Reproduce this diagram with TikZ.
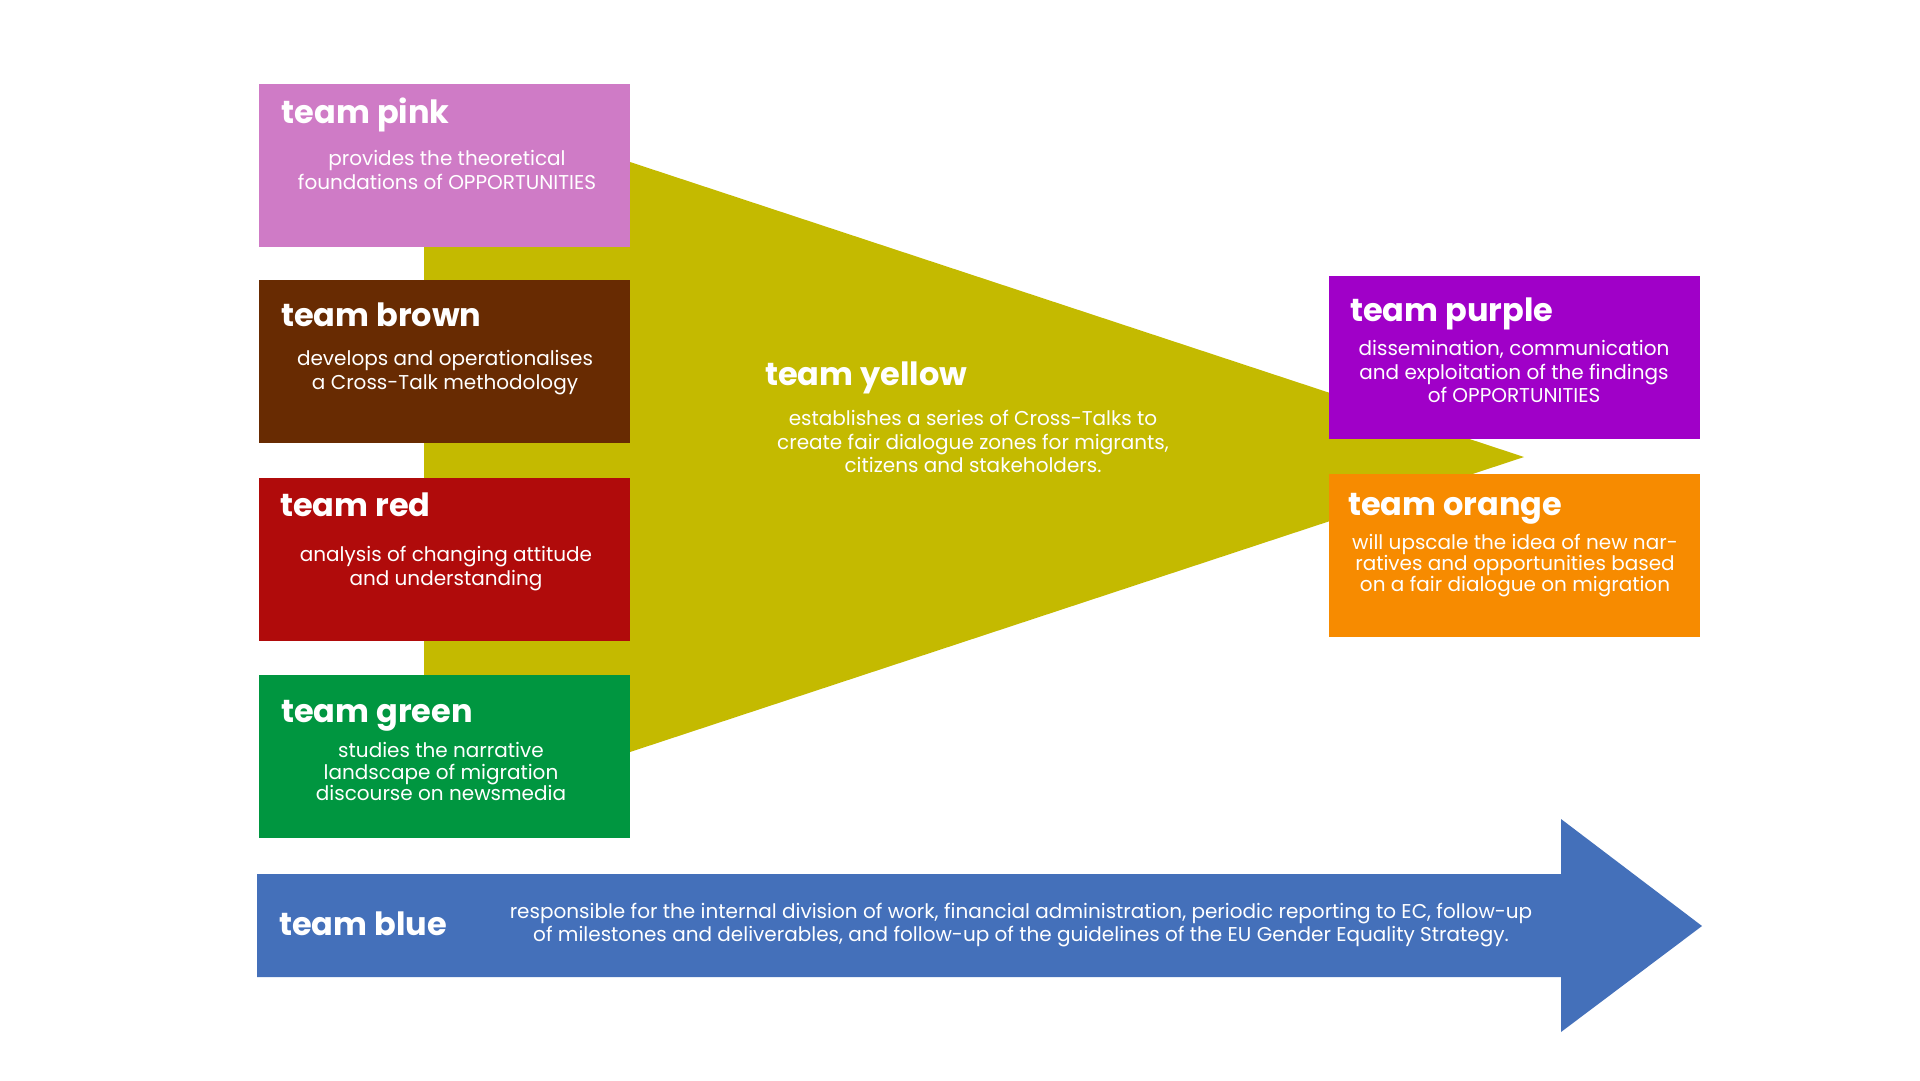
\documentclass[tikz,border=0pt]{standalone}
\usepackage{fontspec}
\setmainfont{Poppins}
\definecolor{cpink}{HTML}{CF7BC6}
\definecolor{cbrown}{HTML}{682B02}
\definecolor{cred}{HTML}{B00B0B}
\definecolor{cgreen}{HTML}{009640}
\definecolor{cyellow}{HTML}{C4BA00}
\definecolor{cpurple}{HTML}{A000C8}
\definecolor{corange}{HTML}{F78B00}
\definecolor{cblue}{HTML}{4470BA}
\begin{document}
\begin{tikzpicture}[x=1pt,y=-1pt,
  box/.style={draw=none,inner sep=0,minimum width=371pt,minimum height=163pt,anchor=north west},
  ttl/.style={anchor=base west,inner sep=0,text=white,font=\fontsize{32}{38}\selectfont\bfseries},
  bdy/.style={anchor=base,inner sep=0,text=white,align=center,font=\fontsize{20}{23.5}\selectfont}]
\useasboundingbox (0,0) rectangle (1920,1080);
\fill[white] (0,0) rectangle (1920,1080);
% yellow funnel
\fill[cyellow] (424,230) rectangle (640,720);
\fill[cyellow] (630,162) -- (1524,457) -- (630,752) -- cycle;
% left boxes
\node[box,fill=cpink] (pink) at (259,83.5) {};
\node[box,fill=cbrown] (brown) at (259,280) {};
\node[box,fill=cred] (red) at (259,478) {};
\node[box,fill=cgreen] (green) at (259,675) {};
% right boxes
\node[box,fill=cpurple] (purple) at (1329,276) {};
\node[box,fill=corange] (orange) at (1329,474) {};
% blue arrow
\fill[cblue] (257,874) -- (1561,874) -- (1561,819) -- (1702,926) -- (1561,1032) -- (1561,977) -- (257,977) -- cycle;
% titles
\node[ttl] (pinkt) at (281.7,123.3) {team pink};
\node[ttl] (brownt) at (281,326) {team brown};
\node[ttl] (redt) at (280,516.7) {team red};
\node[ttl] (greent) at (281,722.7) {team green};
\node[ttl] (yellowt) at (765,385) {team yellow};
\node[ttl] (purplet) at (1350,321) {team purple};
\node[ttl] (oranget) at (1348,515) {team orange};
\node[ttl] (bluet) at (279,935) {team blue};
% bodies (anchor = baseline of last line)
\node[bdy] (pinkb) at (447,189.3) {provides the theoretical\\foundations of OPPORTUNITIES};
\node[bdy] (brownb) at (445,389.3) {develops and operationalises\\a Cross-Talk methodology};
\node[bdy] (redb) at (446,585) {analysis of changing attitude\\and understanding};
\node[bdy,font=\fontsize{20}{21.7}\selectfont] (greenb) at (441,800.7) {studies the narrative\\landscape of migration\\discourse on newsmedia};
\node[bdy] (yellowb) at (973,472.7) {establishes a series of Cross-Talks to\\create fair dialogue zones for migrants,\\citizens and stakeholders.};
\node[bdy] (purpleb) at (1514,402.7) {dissemination, communication\\and exploitation of the findings\\of OPPORTUNITIES};
\node[bdy,font=\fontsize{20}{21.2}\selectfont] (orangeb) at (1515,591.7) {will upscale the idea of new nar-\\ratives and opportunities based\\on a fair dialogue on migration};
\node[bdy] (blueb) at (1021,941.7) {responsible for the internal division of work, financial administration, periodic reporting to EC, follow-up\\of milestones and deliverables, and follow-up of the guidelines of the EU Gender Equality Strategy.};
\end{tikzpicture}
\end{document}
